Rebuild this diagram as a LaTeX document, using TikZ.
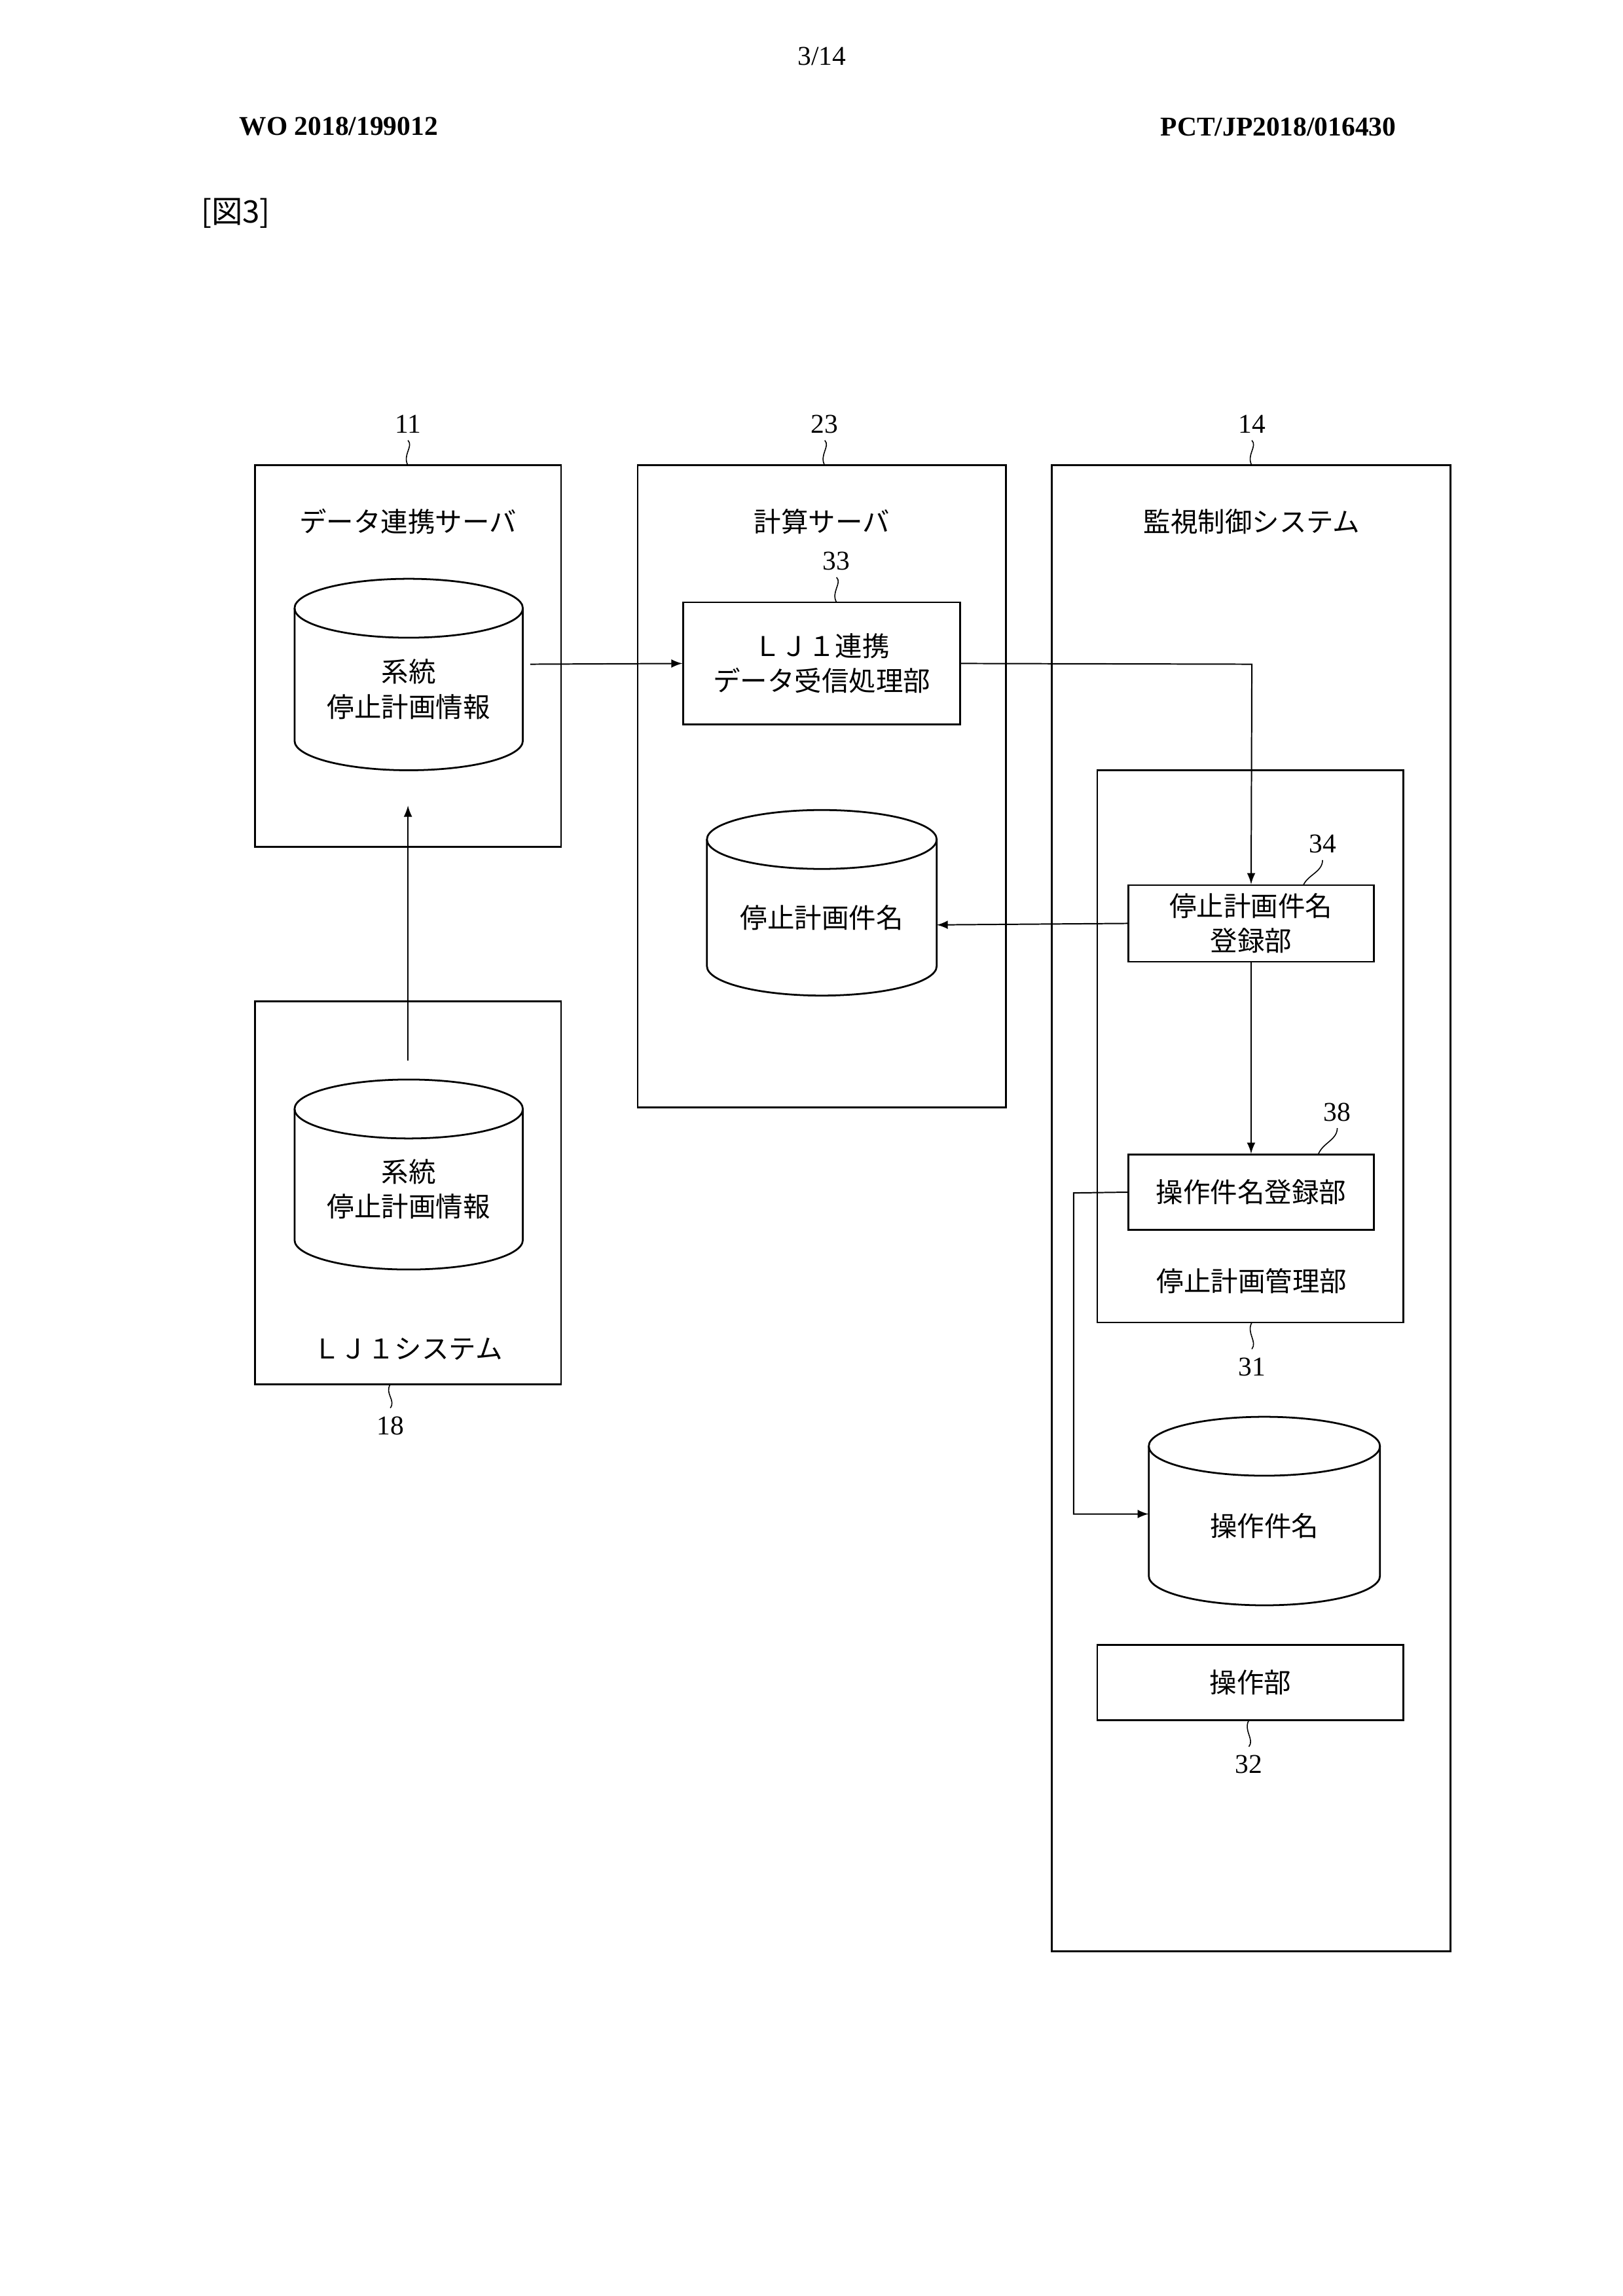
\documentclass[tikz,border=0pt]{standalone}
\usepackage{fontspec}
\setmainfont{Noto Sans CJK JP}
\newfontfamily\hdr{Liberation Serif}
\begin{document}
\begin{tikzpicture}[x=0.02cm,y=-0.02cm,line width=0.7pt,
  txt/.style={font=\fontsize{10.5}{13.5}\selectfont,align=center,inner sep=0pt},
  boxn/.style={draw,inner sep=0pt},
  arr/.style={->,>=latex,line width=0.5pt}]
\useasboundingbox (0,0) rectangle (1102,1559);
\newcommand\mycyl[6]{%
 \draw[fill=white] (#2,#4+20) -- (#2,#5-20) arc[start angle=180,end angle=0,x radius={(#3-#2)/2},y radius=20] -- (#3,#4+20);
 \draw ({(#2+#3)/2},#4+20) ellipse [x radius={(#3-#2)/2},y radius=20];
 \node[txt] (#1) at ({(#2+#3)/2},{(#4+#5)/2+10}) {#6};}
\newcommand\lbl[4]{% name, x, y(text), ybox
 \node[txt] (#1) at (#2,#3) {\hdr\fontsize{11}{13}\selectfont #1};
 \draw[line width=0.4pt] (#2,#3+11) .. controls (#2+4,#3+14) and (#2-4,#3+19) .. (#2,#4);}
% header
\node[txt] (pg) at (558,38) {\hdr 3/14};
\node[txt] (wo) at (230,86) {\hdr\bfseries WO 2018/199012};
\node[txt] (pct) at (868,86) {\hdr\bfseries PCT/JP2018/016430};
\node[txt,font=\fontsize{12}{14}\selectfont] (fig) at (160,145) {[図3]};
% box 11
\draw (173,316) rectangle (381,575);
\node[txt] (t11) at (277,354) {データ連携サーバ};
\mycyl{c11}{200}{355}{393}{523}{系統\\停止計画情報}
\node[txt] (n11) at (277,288) {\hdr 11};
\draw[line width=0.4pt] (277,299) .. controls (281,303) and (273,309) .. (277,316);
% box 18
\draw (173,680) rectangle (381,940);
\mycyl{c18}{200}{355}{733}{862}{系統\\停止計画情報}
\node[txt] (t18) at (277,916) {ＬＪ１システム};
\node[txt] (n18) at (265,968) {\hdr 18};
\draw[line width=0.4pt] (265,956) .. controls (269,951) and (261,946) .. (265,940);
\coordinate (a18) at (277,720);
\coordinate (b11) at (277,547);
\draw[arr] (a18) -- (b11);
% box 23
\draw (433,316) rectangle (683,752);
\node[txt] (t23) at (558,354) {計算サーバ};
\node[txt] (n23) at (560,288) {\hdr 23};
\draw[line width=0.4pt] (560,299) .. controls (564,303) and (556,309) .. (560,316);
\node[boxn,minimum width=188\pgflinewidth/\pgflinewidth*0.02cm,minimum height=83*0.02cm,txt,draw] (b33) at (558,450.5) {ＬＪ１連携\\データ受信処理部};
\node[txt] (n33) at (568,381) {\hdr 33};
\draw[line width=0.4pt] (568,392) .. controls (572,396) and (564,402) .. (568,409);
\mycyl{c23}{480}{636}{550}{676}{停止計画件名}
\coordinate (s11) at (360,451);
\draw[arr] (s11) -- (b33.west);
% box 14
\draw (714,316) rectangle (985,1325);
\node[txt] (t14) at (850,354) {監視制御システム};
\node[txt] (n14) at (850,288) {\hdr 14};
\draw[line width=0.4pt] (850,299) .. controls (854,303) and (846,309) .. (850,316);
\draw (745,523) rectangle (953,898);
\node[txt] (t31) at (850,870) {停止計画管理部};
\node[txt] (n31) at (850,928) {\hdr 31};
\draw[line width=0.4pt] (850,916) .. controls (854,911) and (846,905) .. (850,898);
\node[txt,draw,minimum width=167*0.02cm,minimum height=52*0.02cm] (b34) at (849.5,627) {停止計画件名\\登録部};
\node[txt] (n34) at (898,573) {\hdr 34};
\draw[line width=0.4pt] (898,584) .. controls (898,592) and (888,594) .. (885,601);
\node[txt,draw,minimum width=167*0.02cm,minimum height=51*0.02cm] (b38) at (849.5,809.5) {操作件名登録部};
\node[txt] (n38) at (908,755) {\hdr 38};
\draw[line width=0.4pt] (908,766) .. controls (908,774) and (898,776) .. (895,784);
\mycyl{c14}{780}{937}{962}{1090}{操作件名}
\node[txt,draw,minimum width=208*0.02cm,minimum height=51*0.02cm] (b32) at (849,1142.5) {操作部};
\node[txt] (n32) at (848,1198) {\hdr 32};
\draw[line width=0.4pt] (848,1186) .. controls (852,1181) and (844,1175) .. (848,1168);
% connectors
\coordinate (k1) at (850,451);
\draw[arr] (b33.east) -- (k1) -- (b34.north);
\coordinate (e23) at (636,628);
\draw[arr] (b34.west) -- (e23);
\draw[arr] (b34.south) -- (b38.north);
\coordinate (k2) at (729,810);
\coordinate (k3) at (729,1028);
\coordinate (e14) at (780,1028);
\draw[arr] (b38.west) -- (k2) -- (k3) -- (e14);
\end{tikzpicture}
\end{document}
